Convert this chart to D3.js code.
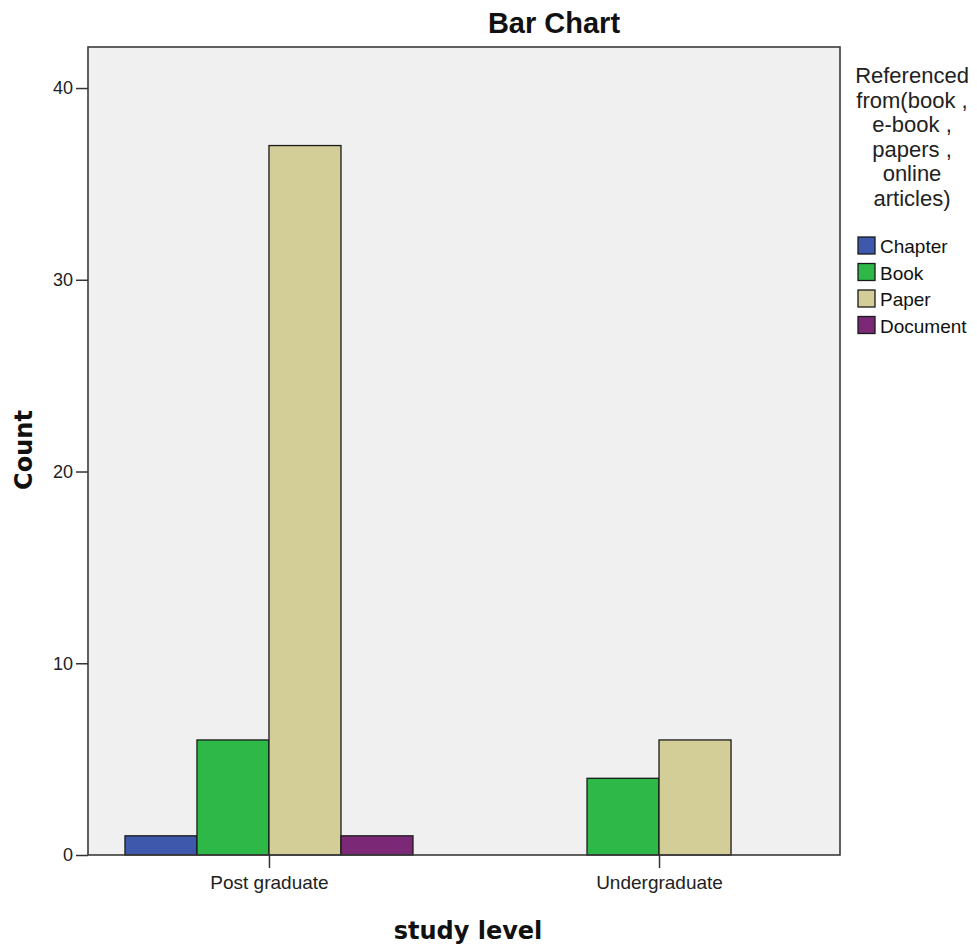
<!DOCTYPE html>
<html><head><meta charset="utf-8">
<script src="https://cdn.jsdelivr.net/npm/d3@7"></script>
<style>body{margin:0;background:#fff}svg{display:block}</style>
</head><body>
<svg id="chart" width="977" height="947"></svg>
<script>
const groups = ["Post graduate", "Undergraduate"];
const series = ["Chapter", "Book", "Paper", "Document"];
const colors = ["#3e58ac", "#2eb848", "#d3ce97", "#7b2876"];
const values = {
  "Post graduate": [1, 6, 37, 1],
  "Undergraduate": [0, 4, 6, 0]
};
const yTicks = [0, 10, 20, 30, 40];
const legendTitle = ["Referenced", "from(book ,", "e-book ,", "papers ,", "online", "articles)"];

const svg = d3.select("#chart");
const L = 88, R = 840, T = 47, B = 855;
const font = "'Liberation Sans', Arial, sans-serif";
const boldFont = "'DejaVu Sans', Verdana, sans-serif";

svg.append("rect").attr("x", L).attr("y", T).attr("width", R - L).attr("height", B - T).attr("fill", "#f0f0f0");

const y = d3.scaleLinear().domain([0, 42.14]).range([B, T]);
const x = d3.scalePoint().domain(groups).range([L, R]).padding(0.464);
const barW = x.step() * 0.1846;

groups.forEach(g => {
  const items = series.map((s, i) => ({s, i, v: values[g][i]})).filter(d => d.v > 0);
  const start = x(g) - items.length * barW / 2;
  svg.selectAll(null).data(items).enter().append("rect")
    .attr("x", (d, k) => start + k * barW)
    .attr("y", d => y(d.v))
    .attr("width", barW)
    .attr("height", d => y(0) - y(d.v))
    .attr("fill", d => colors[d.i])
    .attr("stroke", "#1a1a1a").attr("stroke-width", 1.3);
});

// frame
svg.append("rect").attr("x", L).attr("y", T).attr("width", R - L).attr("height", B - T)
  .attr("fill", "none").attr("stroke", "#3a3a3a").attr("stroke-width", 1.6);

// y axis
const ya = svg.append("g").attr("transform", `translate(${L},0)`)
  .call(d3.axisLeft(y).tickValues(yTicks).tickSize(12).tickPadding(3).tickFormat(d3.format("d")));
ya.select(".domain").remove();
ya.selectAll("line").attr("stroke", "#333").attr("stroke-width", 1.5);
ya.selectAll("text").attr("font-family", font).attr("font-size", 18).attr("fill", "#222");

// x axis
const xa = svg.append("g").attr("transform", `translate(0,${B})`)
  .call(d3.axisBottom(x).tickSize(13).tickPadding(8));
xa.select(".domain").remove();
xa.selectAll("line").attr("stroke", "#333").attr("stroke-width", 1.5);
xa.selectAll("text").attr("font-family", font).attr("font-size", 19).attr("fill", "#222");

// titles
svg.append("text").attr("x", 554).attr("y", 33).attr("text-anchor", "middle")
  .attr("font-family", font).attr("font-weight", "bold").attr("font-size", 29).attr("fill", "#111").text("Bar Chart");
svg.append("text").attr("x", 468).attr("y", 939).attr("text-anchor", "middle")
  .attr("font-family", boldFont).attr("font-weight", "bold").attr("font-size", 24).attr("fill", "#111").text("study level");
svg.append("text").attr("transform", "translate(32,450) rotate(-90)").attr("text-anchor", "middle")
  .attr("font-family", boldFont).attr("font-weight", "bold").attr("font-size", 24).attr("fill", "#111").text("Count");

// legend
const lg = svg.append("g");
lg.selectAll(null).data(legendTitle).enter().append("text")
  .attr("x", 912).attr("y", (d, i) => 83 + i * 24.6).attr("text-anchor", "middle")
  .attr("font-family", font).attr("font-size", 22).attr("fill", "#222").text(d => d);
const items = lg.selectAll(null).data(series).enter().append("g")
  .attr("transform", (d, i) => `translate(858,${237 + i * 26.5})`);
items.append("rect").attr("width", 17).attr("height", 17)
  .attr("fill", (d, i) => colors[i]).attr("stroke", "#1a1a1a").attr("stroke-width", 1.3);
items.append("text").attr("x", 22).attr("y", 16).attr("font-family", font).attr("font-size", 19)
  .attr("fill", "#111").text(d => d);
</script>
</body></html>
